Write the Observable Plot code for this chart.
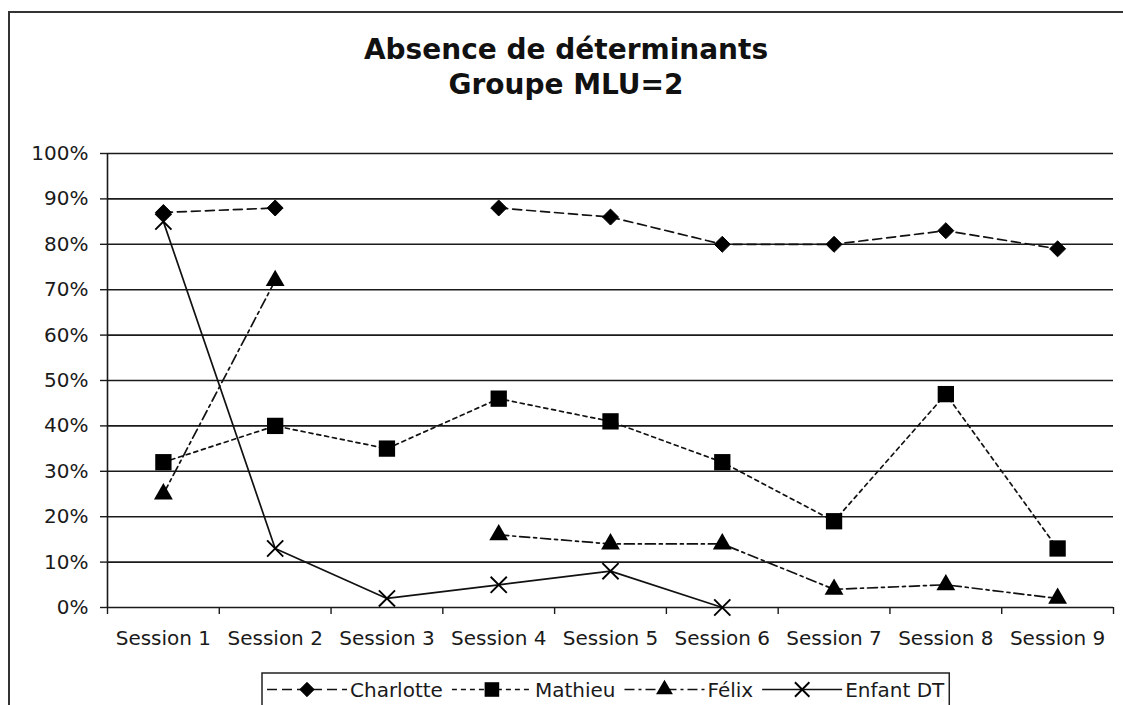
<!DOCTYPE html>
<html>
<head>
<meta charset="utf-8">
<script src="https://cdn.jsdelivr.net/npm/d3@7"></script>
<script src="https://cdn.jsdelivr.net/npm/@observablehq/plot@0.6"></script>
<style>
  html, body { margin: 0; padding: 0; background: #fff; width: 1123px; height: 705px; overflow: hidden; }
  #frame { position: absolute; left: 8px; top: 11px; width: 1130px; height: 720px; border: 2px solid #333; box-sizing: border-box; pointer-events: none; }
  #title { position: absolute; left: 0; top: 32px; width: 1132px; text-align: center; font: bold 28px "DejaVu Sans", Verdana, sans-serif; line-height: 35px; color: #111; }
  #chart { position: absolute; left: 0; top: 0; }
  #legend { position: absolute; left: 0; top: 0; }
</style>
</head>
<body>
<div id="chart"></div>
<div id="title">Absence de déterminants<br>Groupe MLU=2</div>
<svg id="legend" width="1123" height="705"></svg>
<div id="frame"></div>
<script>
// ---- data ----
const sessions = ["Session 1", "Session 2", "Session 3", "Session 4", "Session 5", "Session 6", "Session 7", "Session 8", "Session 9"];
const seriesNames = ["Charlotte", "Mathieu", "Félix", "Enfant DT"];
const charlotte = [87, 88, null, 88, 86, 80, 80, 83, 79];
const mathieu   = [32, 40, 35, 46, 41, 32, 19, 47, 13];
const felix     = [25, 72, null, 16, 14, 14, 4, 5, 2];
const enfantDT  = [85, 13, 2, 5, 8, 0, null, null, null];
const yTicks = [0, 0.1, 0.2, 0.3, 0.4, 0.5, 0.6, 0.7, 0.8, 0.9, 1];

// ---- styles per series ----
const styles = [
  {values: charlotte, symbol: "diamond2", r: 7.2, dash: "9,5", fill: "#000", stroke: "#000"},
  {values: mathieu,   symbol: "square",   r: 9.2, dash: "4,4", fill: "#000", stroke: "none"},
  {values: felix,     symbol: "triangle", r: 7.0, dash: "10,4,3,4", fill: "#000", stroke: "none"},
  {values: enfantDT,  symbol: "times",    r: 7.4, dash: null, fill: "none", stroke: "#000"}
];

const table = seriesNames.map((name, si) =>
  sessions.map((s, i) => ({
    series: name,
    idx: i + 1,
    value: styles[si].values[i] == null ? NaN : styles[si].values[i] / 100
  }))
);

const boundaries = d3.range(sessions.length + 1).map(i => i + 0.5);
const centers = sessions.map((s, i) => i + 1);

const marks = [
  Plot.gridY(yTicks, {stroke: "#1a1a1a", strokeOpacity: 1, strokeWidth: 1.6}),
  Plot.ruleX([boundaries[0]], {stroke: "#1a1a1a", strokeWidth: 1.6}),
  Plot.axisY(yTicks, {tickSize: 7, tickPadding: 12, tickFormat: d3.format(".0%"), label: null, stroke: "#1a1a1a", strokeWidth: 1.4}),
  Plot.axisX(boundaries, {tickSize: 7, tickFormat: () => "", label: null, stroke: "#1a1a1a", strokeWidth: 1.4}),
  Plot.axisX(centers, {tickSize: 0, tickPadding: 23, tickFormat: i => sessions[i - 1], label: null})
];

table.forEach((rows, si) => {
  const st = styles[si];
  marks.push(Plot.line(rows, {
    x: "idx", y: "value",
    stroke: "#111", strokeWidth: 1.7,
    strokeDasharray: st.dash || undefined,
    curve: "linear"
  }));
});
table.forEach((rows, si) => {
  const st = styles[si];
  marks.push(Plot.dot(rows, {
    x: "idx", y: "value",
    symbol: () => st.symbol, r: st.r,
    fill: st.fill, stroke: st.stroke, strokeWidth: si === 3 ? 1.9 : 1
  }));
});

const chart = Plot.plot({
  width: 1123,
  height: 660,
  marginLeft: 107,
  marginRight: 10,
  marginTop: 153,
  marginBottom: 53,
  x: {type: "linear", domain: [boundaries[0], boundaries[boundaries.length - 1]]},
  y: {type: "linear", domain: [0, 1]},
  symbol: {type: "identity"},
  style: {background: "none", fontFamily: "'DejaVu Sans', Verdana, sans-serif", fontSize: "20px", color: "#1a1a1a", overflow: "visible"},
  marks
});
document.getElementById("chart").appendChild(chart);

// ---- legend ----
const lg = d3.select("#legend");
const symbolMap = {diamond2: d3.symbolDiamond2, square: d3.symbolSquare, triangle: d3.symbolTriangle, times: d3.symbolTimes};
const box = lg.append("rect").attr("x", 262).attr("y", 673).attr("height", 60)
  .attr("fill", "#fff").attr("stroke", "#222").attr("stroke-width", 1.5);
let x0 = 267;
const lineY = 689.5;
seriesNames.forEach((name, si) => {
  const st = styles[si];
  lg.append("line").attr("x1", x0).attr("x2", x0 + 80).attr("y1", lineY).attr("y2", lineY)
    .attr("stroke", "#111").attr("stroke-width", 1.6)
    .attr("stroke-dasharray", st.dash ? (si === 0 ? "10,5" : si === 1 ? "5,4" : "10,4,3,4") : null);
  const size = Math.PI * st.r * st.r * 0.8;
  lg.append("path").attr("d", d3.symbol(symbolMap[st.symbol], size)())
    .attr("transform", `translate(${x0 + 40},${lineY})`)
    .attr("fill", st.fill).attr("stroke", st.stroke).attr("stroke-width", si === 3 ? 1.9 : 1);
  const t = lg.append("text").attr("x", x0 + 83).attr("y", 696.5)
    .attr("font-family", "'DejaVu Sans', Verdana, sans-serif").attr("font-size", 20).attr("fill", "#1a1a1a")
    .text(name);
  const w = t.node().getComputedTextLength();
  x0 = x0 + 83 + w + 9;
});
box.attr("width", x0 - 9 + 5 - 262);
</script>
</body>
</html>
